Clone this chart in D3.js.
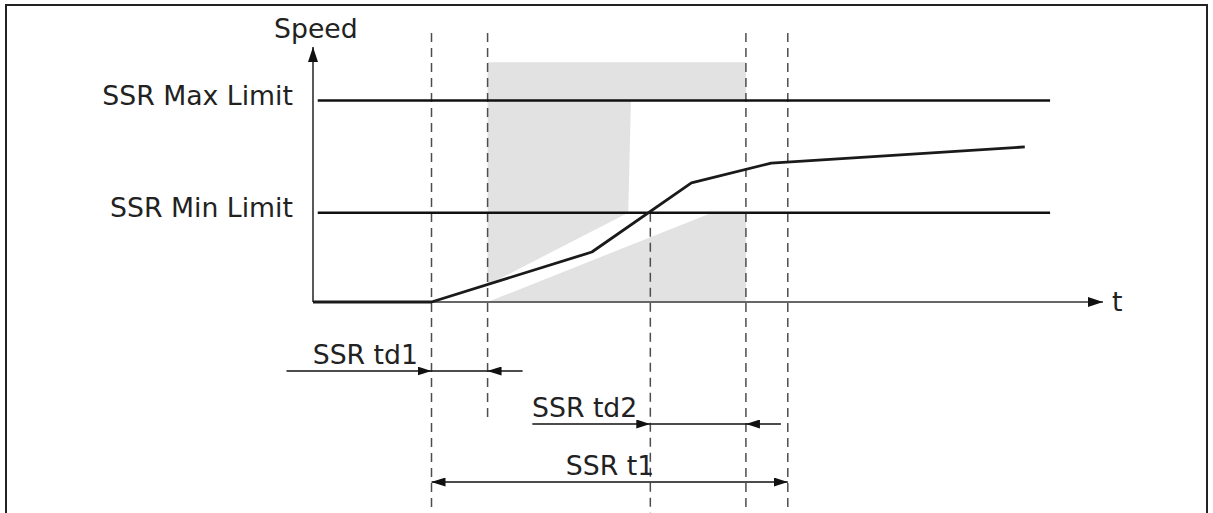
<!DOCTYPE html>
<html>
<head>
<meta charset="utf-8">
<script src="https://cdn.jsdelivr.net/npm/d3@7"></script>
<style>
  body { margin: 0; background: #fff; }
  svg { display: block; }
  text { font-family: "DejaVu Sans", Verdana, sans-serif; font-size: 26.7px; fill: #222; }
</style>
</head>
<body>
<svg id="chart"></svg>
<script>
var width = 1213,
    height = 513;

// speed profile (time, speed) in arbitrary units
var speedTimes  = [0, 15, 35.3, 47.9, 58, 90.1];
var speedValues = [0, 0, 19.6, 46.7, 54.5, 60.8];

var maxLimit = 79;
var minLimit = 35;
var limitEnd = 93.3;

// key instants
var tStart   = 15;     // speed starts rising
var tTd1     = 22.1;   // end of SSR td1
var tCross   = 42.7;   // speed crosses min limit
var tTd2     = 54.8;   // end of SSR td2
var tT1      = 60.1;   // end of SSR t1

// grey "forbidden" areas
var upperZoneT = [22.1, 54.8, 54.8, 40.25, 39.9, 22.1];
var upperZoneV = [94, 94, 79, 79, 35, 6.7];
var lowerZoneT = [22.1, 50.5, 54.8, 54.8];
var lowerZoneV = [0, 35, 35, 0];

var labels = ["Speed", "t", "SSR Max Limit", "SSR Min Limit", "SSR td1", "SSR td2", "SSR t1"];

var x = d3.scaleLinear().domain([0, 100]).range([313, 1103]);
var y = d3.scaleLinear().domain([0, 100]).range([302, 47]);

var svg = d3.select('#chart')
            .attr('width', width)
            .attr('height', height);

// frame
svg.append('path')
   .attr('d', 'M6,' + (height + 5) + 'V5H1207V' + (height + 5))
   .attr('fill', 'none')
   .attr('stroke', '#222')
   .attr('stroke-width', 2);

var defs = svg.append('defs');
function marker(id, len, half) {
  defs.append('marker')
      .attr('id', id)
      .attr('viewBox', '0 0 ' + len + ' ' + (half * 2))
      .attr('refX', len).attr('refY', half)
      .attr('markerWidth', len).attr('markerHeight', half * 2)
      .attr('markerUnits', 'userSpaceOnUse')
      .attr('orient', 'auto')
    .append('path')
      .attr('d', 'M0,0L' + len + ',' + half + 'L0,' + (half * 2) + 'Z')
      .attr('fill', '#111');
}
marker('arr', 14, 4.5);
marker('axarr', 15, 5);

// grey zones
var zone = d3.line().x(d => x(d[0])).y(d => y(d[1]));
[[upperZoneT, upperZoneV], [lowerZoneT, lowerZoneV]].forEach(z => {
  svg.append('path')
     .attr('d', zone(d3.zip(z[0], z[1])) + 'Z')
     .attr('fill', '#e2e2e2');
});

// dashed guides
var guides = [
  {t: tStart, top: 33, bottom: 513},
  {t: tTd1,   top: 33, bottom: 420},
  {t: tCross, top: y(minLimit), bottom: 513},
  {t: tTd2,   top: 33, bottom: 513},
  {t: tT1,    top: 33, bottom: 513}
];
svg.selectAll('.guide')
   .data(guides)
   .enter()
   .append('line')
   .attr('class', 'guide')
   .attr('x1', d => x(d.t)).attr('x2', d => x(d.t))
   .attr('y1', d => d.top).attr('y2', d => d.bottom)
   .attr('stroke', '#4d4d4d')
   .attr('stroke-width', 1.5)
   .attr('stroke-dasharray', '9,6');

// axes
svg.append('line')
   .attr('x1', x(0)).attr('x2', x(100))
   .attr('y1', y(0)).attr('y2', y(0))
   .attr('stroke', '#666').attr('stroke-width', 2)
   .attr('marker-end', 'url(#axarr)');
svg.append('line')
   .attr('x1', x(0)).attr('x2', x(0))
   .attr('y1', y(0)).attr('y2', y(100))
   .attr('stroke', '#222').attr('stroke-width', 1.5)
   .attr('marker-end', 'url(#axarr)');

// limits
[maxLimit, minLimit].forEach(v => {
  svg.append('line')
     .attr('x1', x(0.6)).attr('x2', x(limitEnd))
     .attr('y1', y(v)).attr('y2', y(v))
     .attr('stroke', '#111').attr('stroke-width', 2.5);
});

// speed curve
var line = d3.line().x(d => x(d[0])).y(d => y(d[1]));
svg.append('path')
   .attr('d', line(d3.zip(speedTimes, speedValues)))
   .attr('fill', 'none')
   .attr('stroke', '#1a1a1a')
   .attr('stroke-width', 2.8)
   .attr('stroke-linejoin', 'round');

// text labels
svg.append('text').attr('x', 274).attr('y', 38).text(labels[0]);
svg.append('text').attr('x', 1112).attr('y', 311).text(labels[1]);
svg.append('text').attr('x', 293).attr('y', y(maxLimit) + 4).attr('text-anchor', 'end').text(labels[2]);
svg.append('text').attr('x', 293).attr('y', y(minLimit) + 4).attr('text-anchor', 'end').text(labels[3]);

// dimension arrows
function dim(row, a, b, tailA, tailB, label, lx, anchor) {
  var g = svg.append('g');
  g.append('line').attr('x1', x(a) - tailA).attr('x2', x(a)).attr('y1', row).attr('y2', row)
   .attr('stroke', '#111').attr('stroke-width', 1.5).attr('marker-end', 'url(#arr)');
  g.append('line').attr('x1', x(a)).attr('x2', x(b)).attr('y1', row).attr('y2', row)
   .attr('stroke', '#111').attr('stroke-width', 1.5);
  g.append('line').attr('x1', x(b) + tailB).attr('x2', x(b)).attr('y1', row).attr('y2', row)
   .attr('stroke', '#111').attr('stroke-width', 1.5).attr('marker-end', 'url(#arr)');
  g.append('text').attr('x', lx).attr('y', row - 7).attr('text-anchor', anchor).text(label);
}
defs.append('marker')
    .attr('id', 'arrs')
    .attr('viewBox', '0 0 14 9').attr('refX', 0).attr('refY', 4.5)
    .attr('markerWidth', 14).attr('markerHeight', 9)
    .attr('markerUnits', 'userSpaceOnUse').attr('orient', 'auto')
  .append('path').attr('d', 'M14,0L0,4.5L14,9Z').attr('fill', '#111');

dim(371, tStart, tTd1, 145, 35, labels[4], 418, 'end');
dim(424, tCross, tTd2, 118, 35, labels[5], 532, 'start');
svg.append('line')
   .attr('x1', x(tStart)).attr('x2', x(tT1)).attr('y1', 482).attr('y2', 482)
   .attr('stroke', '#111').attr('stroke-width', 1.5)
   .attr('marker-start', 'url(#arrs)').attr('marker-end', 'url(#arr)');
svg.append('text').attr('x', 610).attr('y', 475).attr('text-anchor', 'middle').text(labels[6]);
</script>
</body>
</html>
